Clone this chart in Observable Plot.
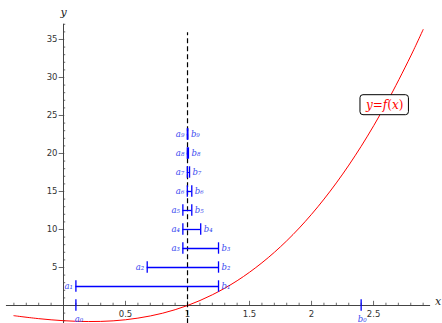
<!DOCTYPE html>
<html>
<head>
<meta charset="utf-8">
<script src="https://cdn.jsdelivr.net/npm/d3@7"></script>
<script src="https://cdn.jsdelivr.net/npm/@observablehq/plot@0.6"></script>
<style>
  html, body { margin: 0; padding: 0; background: #fff; }
  svg { display: block; }
</style>
</head>
<body>
<div id="chart"></div>
<script>
// ---- data ----
const curveX = [-0.4, -0.2, 0, 0.2, 0.4, 0.6, 0.8, 1.0, 1.2, 1.4, 1.6, 1.8, 2.0, 2.2, 2.4, 2.6, 2.8, 2.9];
const curveY = [-1.34, -1.73, -2.0, -2.11, -2.02, -1.66, -1.01, 0, 1.41, 3.26, 5.62, 8.51, 12.0, 16.13, 20.94, 26.5, 32.83, 36.31];
const steps = [0, 1, 2, 3, 4, 5, 6, 7, 8, 9];
const aVals = [0.1, 0.1, 0.675, 0.9625, 0.9625, 0.9625, 0.9984, 0.9984, 0.9984, 0.9984];
const bVals = [2.4, 1.25, 1.25, 1.25, 1.1063, 1.0344, 1.0344, 1.0164, 1.0074, 1.0029];
const levels = [0, 2.5, 5, 7.5, 10, 12.5, 15, 17.5, 20, 22.5];
const aLabels = ["a₀", "a₁", "a₂", "a₃", "a₄", "a₅", "a₆", "a₇", "a₈", "a₉"];
const bLabels = ["b₀", "b₁", "b₂", "b₃", "b₄", "b₅", "b₆", "b₇", "b₈", "b₉"];
const rootX = [1];
const xTickVals = [0.5, 1, 1.5, 2, 2.5];
const xTickLabels = ["0.5", "1", "1.5", "2", "2.5"];
const yTickVals = [5, 10, 15, 20, 25, 30, 35];
const yTickLabels = ["5", "10", "15", "20", "25", "30", "35"];
const curveLabel = ["y=f(x)"];

const curve = curveX.map((x, i) => ({x, y: curveY[i]}));
const intervals = steps.map((k, i) => ({k, a: aVals[i], b: bVals[i], y: levels[i], al: aLabels[i], bl: bLabels[i]}));
const nested = intervals.filter(d => d.k > 0);
const first = intervals.filter(d => d.k === 0);
const xMinor = d3.range(-4, 30).map(v => v / 10).filter(v => v !== 0 && !xTickVals.some(t => Math.abs(t - v) < 1e-9));
const yMinor = d3.range(-2, 38).filter(v => v !== 0 && v % 5 !== 0);

const axisCol = "#444";
const blue = "#0000ff";
const labBlue = "#3b4cf0";
const tickFont = "DejaVu Sans, sans-serif";
const mathFont = "DejaVu Serif, serif";

const chart = Plot.plot({
  width: 442,
  height: 323,
  margin: 0,
  x: {domain: [-0.508, 3.056], axis: null},
  y: {domain: [-2.368, 40.13], axis: null},
  style: {background: "#fff", fontFamily: tickFont, overflow: "visible"},
  marks: [
    // axes lines
    Plot.ruleY([0], {x1: -0.46, x2: 2.96, stroke: axisCol, strokeWidth: 1}),
    Plot.ruleX([0], {y1: -2.4, y2: 37.0, stroke: axisCol, strokeWidth: 1}),
    // x ticks
    Plot.ruleX(xMinor, {y1: 0, y2: 0.3, stroke: axisCol, strokeWidth: 0.8}),
    Plot.ruleX(xTickVals, {y1: 0, y2: 0.55, stroke: axisCol, strokeWidth: 0.8}),
    Plot.text(xTickVals, {x: d => d, y: 0, text: (d, i) => xTickLabels[i], dy: 9, fontSize: 8.5, fill: "#333", fontFamily: tickFont}),
    // y ticks
    Plot.ruleY(yMinor, {x1: 0, x2: 0.018, stroke: axisCol, strokeWidth: 0.8}),
    Plot.ruleY(yTickVals, {x1: -0.035, x2: 0.01, stroke: axisCol, strokeWidth: 0.8}),
    Plot.text(yTickVals, {x: 0, y: d => d, text: (d, i) => yTickLabels[i], dx: -6, textAnchor: "end", fontSize: 8.5, fill: "#333", fontFamily: tickFont}),
    // axis titles
    Plot.text(["y"], {x: 0, y: 38.6, text: d => d, fontSize: 11, fontStyle: "italic", fontFamily: mathFont, fill: "#222"}),
    Plot.text(["x"], {x: 3.02, y: 0.55, text: d => d, fontSize: 11, fontStyle: "italic", fontFamily: mathFont, fill: "#222"}),
    // curve
    Plot.line(curve, {x: "x", y: "y", curve: "catmull-rom", stroke: "red", strokeWidth: 1}),
    // dashed root line
    Plot.ruleX(rootX, {y1: -2.4, y2: 35.9, stroke: "#000", strokeWidth: 1.2, strokeDasharray: "5,3"}),
    // nested intervals
    Plot.ruleY(nested, {x1: "a", x2: "b", y: "y", stroke: blue, strokeWidth: 1.3}),
    Plot.ruleX(intervals, {x: "a", y1: d => d.y - 0.75, y2: d => d.y + 0.75, stroke: blue, strokeWidth: 1.3}),
    Plot.ruleX(intervals, {x: "b", y1: d => d.y - 0.75, y2: d => d.y + 0.75, stroke: blue, strokeWidth: 1.3}),
    Plot.text(nested, {x: "a", y: "y", text: "al", dx: -3, textAnchor: "end", fontSize: 8.5, fontStyle: "italic", fontFamily: mathFont, fill: labBlue}),
    Plot.text(nested, {x: "b", y: "y", text: "bl", dx: 3, textAnchor: "start", fontSize: 8.5, fontStyle: "italic", fontFamily: mathFont, fill: labBlue}),
    Plot.text(first, {x: "a", y: "y", text: "al", dx: 3, dy: 14, fontSize: 8.5, fontStyle: "italic", fontFamily: mathFont, fill: labBlue}),
    Plot.text(first, {x: "b", y: "y", text: "bl", dx: 1, dy: 14, fontSize: 8.5, fontStyle: "italic", fontFamily: mathFont, fill: labBlue}),
    // curve label
    Plot.text(curveLabel, {x: 2.59, y: 26.4, text: d => d, fontSize: 12, fontFamily: mathFont, fill: "red"})
  ]
});
document.getElementById("chart").appendChild(chart);

// rich math text + rounded box for the curve label
for (const t of chart.querySelectorAll("text")) {
  if (t.textContent === curveLabel[0]) {
    const ns = "http://www.w3.org/2000/svg";
    t.textContent = "";
    const parts = [["y", true], ["=", false], ["f", true], ["(", false], ["x", true], [")", false]];
    for (const [s, it] of parts) {
      const sp = document.createElementNS(ns, "tspan");
      sp.textContent = s;
      if (it) sp.setAttribute("font-style", "italic");
      t.appendChild(sp);
    }
    const bb = t.getBBox();
    const r = document.createElementNS(ns, "rect");
    r.setAttribute("x", bb.x - 5);
    r.setAttribute("y", bb.y - 3);
    r.setAttribute("width", bb.width + 10);
    r.setAttribute("height", bb.height + 6);
    r.setAttribute("rx", 3);
    r.setAttribute("fill", "#fff");
    r.setAttribute("stroke", "#000");
    r.setAttribute("stroke-width", 1);
    if (t.getAttribute("transform")) r.setAttribute("transform", t.getAttribute("transform"));
    t.parentNode.insertBefore(r, t);
  }
}
</script>
</body>
</html>
